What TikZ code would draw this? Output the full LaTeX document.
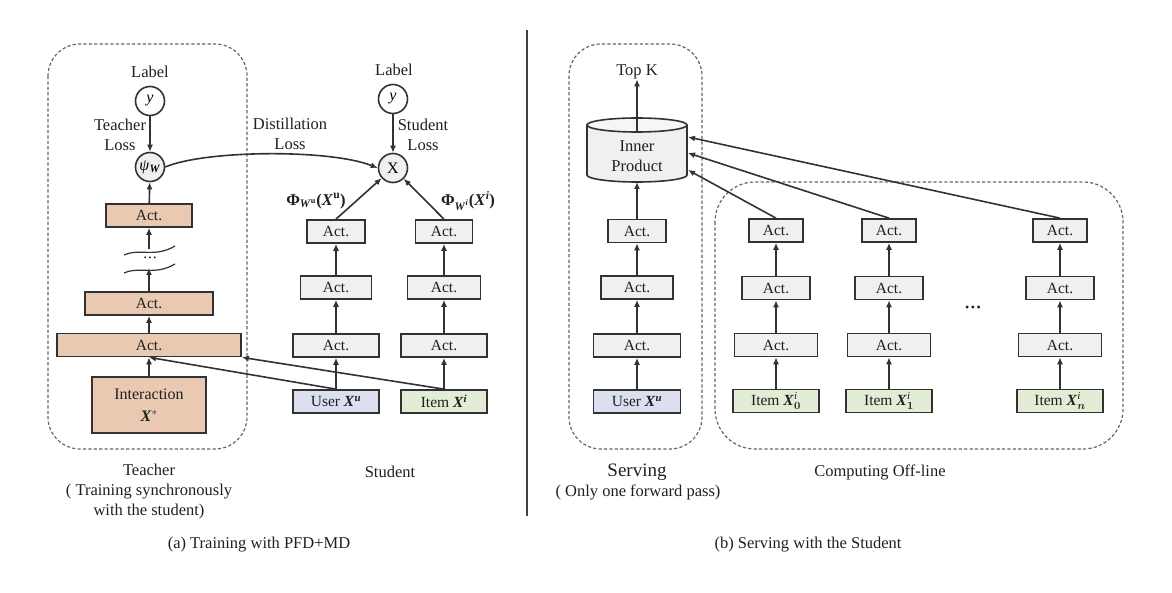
\documentclass[tikz,border=0pt]{standalone}
\usepackage{amsmath}
\usepackage{fontspec}
\setmainfont{Liberation Serif}
\usetikzlibrary{arrows.meta}
\definecolor{tanfill}{RGB}{233,201,177}
\definecolor{actfill}{RGB}{240,240,240}
\definecolor{userfill}{RGB}{219,223,240}
\definecolor{itemfill}{RGB}{227,237,213}
\definecolor{edge}{RGB}{50,50,50}
\newcommand{\bX}{\textbf{\textit{X}}}
\begin{document}
\begin{tikzpicture}[x=1pt,y=-1pt,
  txt/.style={font=\fontsize{16.5}{20}\selectfont, text=black!88, inner sep=0pt, align=center},
  box/.style={draw=edge, line width=1.7pt, minimum height=23pt, inner sep=0pt, font=\fontsize{15.5}{17}\selectfont, text=black!88},
  actbox/.style={box, fill=actfill},
  tbox/.style={box, fill=tanfill},
  ubox/.style={box, fill=userfill},
  ibox/.style={box, fill=itemfill},
  circ/.style={circle, draw=edge, line width=1.6pt, minimum size=29pt, inner sep=0pt, font=\fontsize{16}{17}\selectfont},
  arr/.style={draw=edge, line width=1.6pt, -{Latex[length=7pt,width=6pt]}},
  plain/.style={draw=edge, line width=1.6pt},
  dbox/.style={draw=black!60, line width=1.2pt, dash pattern=on 3.2pt off 2.2pt, rounded corners=32pt}
]
\useasboundingbox (0,0) rectangle (1172,593);

% ---------------- Teacher ----------------
\draw[dbox] (48,44) rectangle (247,449);
\node[txt] (tlab) at (150,72) {Label};
\node[circ] (ty) at (150,101) {\textit{y}};
\node[circ, fill=actfill] (psi) at (150,167) {\textit{ψ}\textsubscript{\textbf{\textit{W}}}};
\node[txt] (tloss) at (120,135) {Teacher\\Loss};
\node[tbox, minimum width=86pt] (t1) at (149,215.5) {Act.};
\node[tbox, minimum width=128pt] (t2) at (149,303.5) {Act.};
\node[tbox, minimum width=184pt] (t3) at (149,345) {Act.};
\node[tbox, minimum width=114pt, minimum height=56pt, align=center, font=\fontsize{16}{18}\selectfont] (ti) at (149,405) {Interaction\\[4pt]\bX$^{*}$};
\node[txt, font=\fontsize{8}{8}\selectfont] (dots1) at (150,259) {•\hspace{2pt}•\hspace{2pt}•};
\coordinate (wlo) at (149,268);
\coordinate (whi) at (149,249);
\draw[plain, line width=1.2pt] (124,255) .. controls (140,248) and (155,258) .. (175,246);
\draw[plain, line width=1.2pt] (124,273) .. controls (140,266) and (155,276) .. (175,264);
\draw[arr] (ty) -- (psi);
\draw[arr] (t1) -- (psi);
\draw[arr] (whi) -- (t1);
\draw[arr] (t2) -- (wlo);
\draw[arr] (t3) -- (t2);
\draw[arr] (ti) -- (t3);

% ---------------- Student ----------------
\node[txt] (slab) at (394,70) {Label};
\node[circ] (sy) at (393,99) {\textit{y}};
\node[circ, fill=actfill] (sx) at (393,168) {X};
\node[txt] (sloss) at (423,135) {Student\\Loss};
\node[txt] (dloss) at (290,134) {Distillation\\Loss};
\node[actbox, minimum width=58pt] (su3) at (336,231.5) {Act.};
\node[actbox, minimum width=71pt] (su2) at (336,287.5) {Act.};
\node[actbox, minimum width=86pt] (su1) at (336,345.5) {Act.};
\node[ubox, minimum width=86pt] (user) at (336,401.5) {User \bX\textsuperscript{\textbf{\textit{u}}}};
\node[actbox, minimum width=57pt] (si3) at (444,231.5) {Act.};
\node[actbox, minimum width=73pt] (si2) at (444,287.5) {Act.};
\node[actbox, minimum width=86pt] (si1) at (444,345.5) {Act.};
\node[ibox, minimum width=86pt] (item) at (444,401.5) {Item \bX\textsuperscript{\textbf{\textit{i}}}};
\node[txt] (phiu) at (316,201) {\textbf{Φ}$_{\textbf{\textit{W}}^{\textbf{u}}}$\textbf{(}\bX\textsuperscript{\textbf{u}}\textbf{)}};
\node[txt] (phii) at (468,201) {\textbf{Φ}$_{\textbf{\textit{W}}^{\textbf{\textit{i}}}}$\textbf{(}\bX\textsuperscript{\textbf{\textit{i}}}\textbf{)}};
\draw[arr] (sy) -- (sx);
\draw[arr] (su3.north) -- (sx);
\draw[arr] (si3.north) -- (sx);
\draw[arr] (su2) -- (su3);
\draw[arr] (su1) -- (su2);
\draw[arr] (user) -- (su1);
\draw[arr] (si2) -- (si3);
\draw[arr] (si1) -- (si2);
\draw[arr] (item) -- (si1);
\draw[arr] (user.north) -- (t3.south);
\draw[arr] (item.north) -- (t3.south east);
\draw[arr] (psi.east) .. controls (205,150) and (330,149) .. (sx.west);

% separator
\draw[line width=1.2pt, draw=black!75] (527,30) -- (527,516);

% ---------------- Serving ----------------
\draw[dbox] (569,44) rectangle (702,449);
\node[txt] (topk) at (637,72) {Top K};
\fill[actfill] (587,125) -- (587,175) arc[start angle=180, end angle=0, x radius=50, y radius=7] -- (687,125) -- cycle;
\draw[plain, fill=actfill!60!white] (637,125) ellipse [x radius=50, y radius=7];
\draw[plain] (587,125) -- (587,175) arc[start angle=180, end angle=0, x radius=50, y radius=7] -- (687,125);
\node[txt, minimum width=100pt, minimum height=50pt] (ip) at (637,156) {Inner\\Product};
\coordinate (p1) at (688,137);
\coordinate (p2) at (688,153);
\coordinate (p3) at (688,170);
\node[actbox, minimum width=58pt] (v3) at (637,231) {Act.};
\node[actbox, minimum width=72pt] (v2) at (637,287.5) {Act.};
\node[actbox, minimum width=87pt] (v1) at (637,345.5) {Act.};
\node[ubox, minimum width=87pt] (vuser) at (637,401.5) {User \bX\textsuperscript{\textbf{\textit{u}}}};
\coordinate (ipb) at (637,182);
\draw[arr] (ip.north) -- (topk);
\draw[arr] (v3) -- (ipb);
\draw[arr] (v2) -- (v3);
\draw[arr] (v1) -- (v2);
\draw[arr] (vuser) -- (v1);

% ---------------- Offline ----------------
\draw[dbox, rounded corners=40pt] (715,182) rectangle (1123,449);
\foreach \n/\x/\lab in {ca/776/0, cb/889/1, cc/1060/n}{
  \node[actbox, minimum width=54pt] (\n3) at (\x,230.5) {Act.};
  \node[actbox, minimum width=68pt] (\n2) at (\x,288) {Act.};
  \node[actbox, minimum width=83pt] (\n1) at (\x,345) {Act.};
  \node[ibox, minimum width=86pt] (\n0) at (\x,401) {Item $\textbf{\textit{X}}^{\textit{i}}_{\boldsymbol{\lab}}$};
  \draw[arr] (\n2) -- (\n3);
  \draw[arr] (\n1) -- (\n2);
  \draw[arr] (\n0) -- (\n1);
}
\node[txt, font=\fontsize{12}{12}\selectfont] (dots2) at (973,309) {•\hspace{1.5pt}•\hspace{1.5pt}•};
\draw[arr] (ca3.north) -- (p3);
\draw[arr] (cb3.north) -- (p2);
\draw[arr] (cc3.north) -- (p1);

% ---------------- Labels ----------------
\node[txt] (tcap) at (149,492) {Teacher\\( Training synchronously\\with the student)};
\node[txt] (scap) at (390,472) {Student};
\node[txt, font=\fontsize{19}{20}\selectfont] (vcap) at (637,472) {Serving};
\node[txt] (vcap2) at (638,492) {( Only one forward pass)};
\node[txt] (ocap) at (880,472) {Computing Off-line};
\node[txt] (capa) at (259,545) {(a) Training with PFD+MD};
\node[txt] (capb) at (808,545) {(b) Serving with the Student};
\end{tikzpicture}
\end{document}
